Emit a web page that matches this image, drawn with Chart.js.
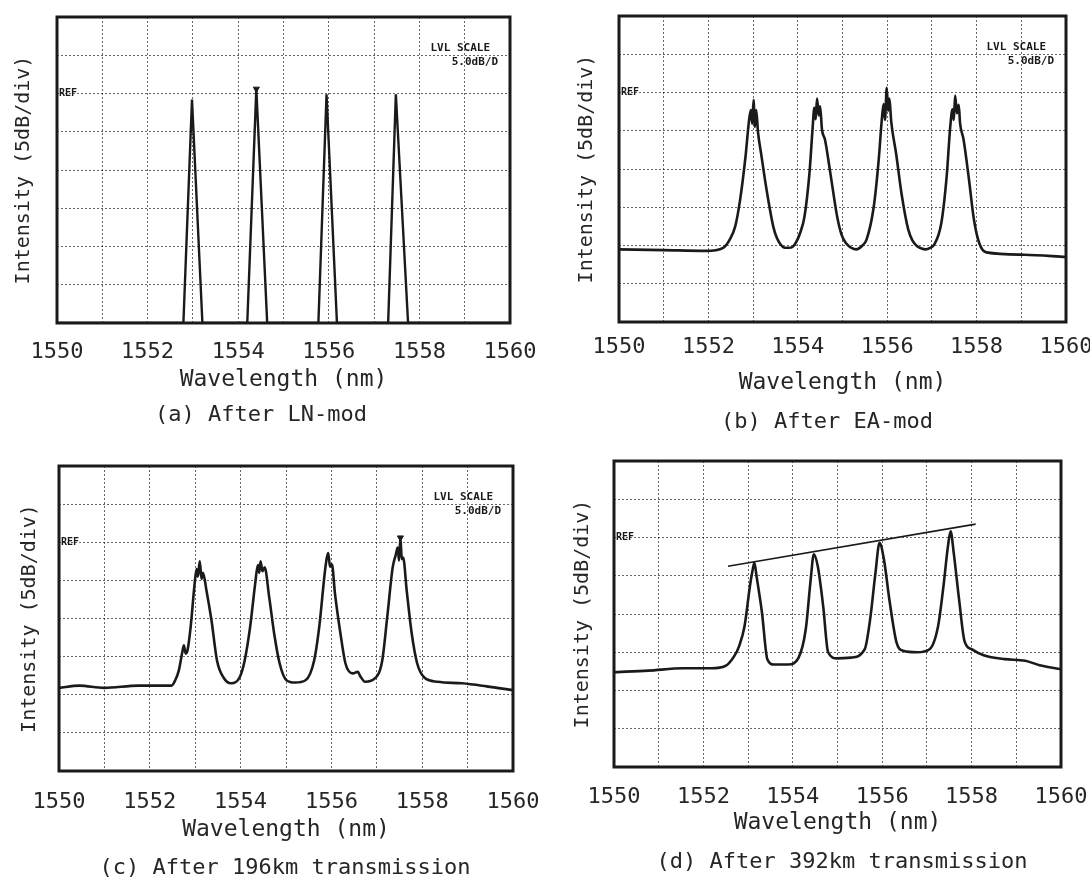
<!DOCTYPE html>
<html>
<head>
<meta charset="utf-8">
<script src="https://cdn.jsdelivr.net/npm/chart.js@4.4.1/dist/chart.umd.min.js"></script>
<style>
  html, body { margin: 0; padding: 0; background: #fff; }
  #wrap { position: relative; width: 1090px; height: 880px; }
  .panel { position: absolute; width: 545px; height: 440px; }
  .panel canvas { display: block; }
</style>
</head>
<body>
<div id="wrap">
  <div class="panel" style="left:0;top:0"><canvas id="chartA" width="545" height="440"></canvas></div>
  <div class="panel" style="left:545px;top:0"><canvas id="chartB" width="545" height="440"></canvas></div>
  <div class="panel" style="left:0;top:440px"><canvas id="chartC" width="545" height="440"></canvas></div>
  <div class="panel" style="left:545px;top:440px"><canvas id="chartD" width="545" height="440"></canvas></div>
</div>
<script>
// axis text
const xTitle = 'Wavelength (nm)';
const yTitle = 'Intensity (5dB/div)';
const xTickLabels = [1550, 1552, 1554, 1556, 1558, 1560];
const captions = ['(a) After LN-mod', '(b) After EA-mod', '(c) After 196km transmission', '(d) After 392km transmission'];

// (a) after LN modulator: wavelength (nm) / level (dB rel. REF)
const wlA = [1550, 1552.79, 1552.98, 1553.21, 1554.20, 1554.40, 1554.64, 1555.77, 1555.95, 1556.18, 1557.31, 1557.48, 1557.75, 1560];
const dbA = [-30, -30, -0.8, -30, -30, 0.6, -30, -30, -0.1, -30, -30, -0.1, -30, -30];

// (b) after EA modulator
const wlB = [1550.00, 1551.00, 1551.94, 1552.33, 1552.48, 1552.60, 1552.71, 1552.83, 1552.91, 1552.95, 1552.98, 1553.01, 1553.04, 1553.07, 1553.11,
  1553.18, 1553.29, 1553.45, 1553.53, 1553.62, 1553.71, 1553.80, 1553.88, 1553.96, 1554.05, 1554.15, 1554.26, 1554.33, 1554.37, 1554.40,
  1554.43, 1554.47, 1554.50, 1554.54, 1554.61, 1554.73, 1554.88, 1554.98, 1555.08, 1555.20, 1555.31, 1555.43, 1555.54, 1555.70, 1555.81,
  1555.88, 1555.92, 1555.95, 1555.99, 1556.02, 1556.05, 1556.09, 1556.20, 1556.32, 1556.47, 1556.57, 1556.67, 1556.77, 1556.86, 1556.96,
  1557.05, 1557.21, 1557.33, 1557.41, 1557.46, 1557.49, 1557.52, 1557.56, 1557.60, 1557.63, 1557.71, 1557.83, 1557.94, 1558.06, 1558.22,
  1559.07, 1560.00];
const dbB = [-20.5, -20.6, -20.7, -20.3, -19.2, -17.5, -14.0, -8.4, -3.6, -2.3, -4.1, -1.0, -4.5, -2.3, -5.2,
  -8.0, -12.3, -17.5, -19.0, -19.9, -20.3, -20.3, -20.2, -19.6, -18.4, -16.2, -10.6, -4.8, -2.0, -3.5,
  -0.8, -3.0, -1.8, -4.8, -6.2, -10.6, -16.2, -18.6, -19.7, -20.3, -20.5, -20.1, -19.2, -14.9, -8.8,
  -3.5, -1.5, -3.6, 0.6, -2.4, -0.8, -3.8, -8.0, -13.2, -17.9, -19.4, -20.1, -20.4, -20.5, -20.3,
  -19.9, -17.1, -11.0, -4.5, -2.2, -3.6, -0.4, -2.7, -1.6, -4.0, -6.2, -11.4, -16.6, -19.7, -20.9,
  -21.2, -21.5];

// (c) after 196 km
const wlC = [1550.00, 1550.45, 1550.99, 1551.75, 1552.48, 1552.56, 1552.64, 1552.71, 1552.75, 1552.79, 1552.83, 1552.90, 1552.98, 1553.03, 1553.06,
  1553.10, 1553.14, 1553.17, 1553.25, 1553.36, 1553.48, 1553.63, 1553.79, 1553.98, 1554.09, 1554.21, 1554.32, 1554.38, 1554.41, 1554.44,
  1554.48, 1554.53, 1554.63, 1554.74, 1554.86, 1555.01, 1555.20, 1555.43, 1555.62, 1555.74, 1555.85, 1555.90, 1555.93, 1555.97, 1556.01,
  1556.08, 1556.20, 1556.31, 1556.47, 1556.58, 1556.64, 1556.74, 1556.97, 1557.12, 1557.23, 1557.35, 1557.42, 1557.46, 1557.49, 1557.52,
  1557.55, 1557.58, 1557.66, 1557.77, 1557.89, 1558.04, 1558.34, 1558.88, 1559.42, 1560.00];
const dbC = [-19.1, -18.8, -19.1, -18.8, -18.8, -18.1, -16.8, -14.6, -13.5, -14.6, -14.2, -11.1, -5.9, -3.5, -4.5,
  -2.5, -4.8, -4.0, -6.4, -10.3, -15.5, -17.8, -18.5, -17.7, -15.5, -11.1, -5.5, -3.0, -4.0, -2.5,
  -3.8, -3.3, -7.2, -12.0, -15.9, -18.1, -18.4, -18.1, -15.5, -10.7, -4.2, -2.0, -1.4, -3.2, -2.9,
  -6.8, -12.0, -15.9, -17.2, -17.0, -17.6, -18.3, -17.8, -15.5, -9.8, -3.3, -1.6, -0.7, -2.4, 0.6,
  -2.2, -2.0, -6.4, -12.0, -15.9, -17.7, -18.3, -18.5, -18.9, -19.4];

// (d) after 392 km
const wlD = [1550.00, 1550.77, 1551.55, 1552.18, 1552.49, 1552.69, 1552.80, 1552.92, 1553.04, 1553.11, 1553.14, 1553.19, 1553.31, 1553.43, 1553.58,
  1553.90, 1554.13, 1554.29, 1554.40, 1554.47, 1554.56, 1554.68, 1554.79, 1554.99, 1555.30, 1555.61, 1555.73, 1555.85, 1555.94, 1556.04,
  1556.16, 1556.32, 1556.47, 1556.78, 1557.06, 1557.25, 1557.37, 1557.47, 1557.53, 1557.60, 1557.72, 1557.84, 1558.00, 1558.27, 1558.74,
  1559.20, 1559.52, 1560.00];
const dbD = [-17.6, -17.4, -17.1, -17.1, -16.8, -15.5, -14.2, -11.6, -6.4, -4.0, -3.3, -5.1, -9.8, -15.9, -16.6,
  -16.6, -15.7, -12.0, -5.5, -2.2, -3.8, -9.0, -15.0, -15.8, -15.7, -14.6, -10.7, -4.6, -0.7, -2.9,
  -8.1, -13.7, -14.8, -15.0, -14.6, -11.6, -6.4, -1.2, 0.8, -2.0, -8.1, -13.5, -14.6, -15.4, -15.9,
  -16.1, -16.7, -17.2];

// tilt line drawn over the peaks in (d)
const tiltWl = [1552.55, 1558.09];
const tiltDb = [-3.76, 1.75];

// OSA peak markers
const markA = { wl: [1554.40], db: [0.6] };
const markC = { wl: [1557.52], db: [0.6] };

const FONT = "'DejaVu Sans Mono', monospace";
const INK = '#1a1a1a';
const TEXT = '#262626';
const GRID = 'rgba(0,0,0,0.6)';

const toXY = (xs, ys) => xs.map((x, i) => ({ x, y: ys[i] }));

// frame, REF / LVL SCALE annotations and the caption under each panel
const panelDecor = {
    id: 'panelDecor',
    afterDatasetsDraw(chart, args, opts) {
        const { ctx, chartArea: a, scales: { y } } = chart;
        ctx.save();
        ctx.strokeStyle = INK;
        ctx.lineWidth = 3;
        ctx.strokeRect(a.left, a.top, a.right - a.left, a.bottom - a.top);

        ctx.fillStyle = INK;
        ctx.textBaseline = 'middle';
        ctx.textAlign = 'left';
        ctx.font = `bold 10px ${FONT}`;
        ctx.fillText('REF', a.left + 2, y.getPixelForValue(0));

        if (opts.lvl) {
            ctx.font = `bold 11px ${FONT}`;
            ctx.textAlign = 'right';
            ctx.fillText('LVL SCALE', a.right - 20, y.getPixelForValue(5) - 7);
            ctx.fillText('5.0dB/D', a.right - 12, y.getPixelForValue(5) + 7);
        }

        ctx.fillStyle = TEXT;
        ctx.font = `22px ${FONT}`;
        ctx.textAlign = 'center';
        ctx.fillText(opts.caption, opts.capX, opts.capY);
        ctx.restore();
    }
};

function buildPanel(p) {
    const datasets = [{
        data: toXY(p.wl, p.db),
        borderColor: INK,
        borderWidth: p.smooth ? 2.6 : 2.4,
        pointRadius: 0,
        cubicInterpolationMode: p.smooth ? 'monotone' : 'default',
        tension: 0,
        fill: false
    }];
    if (p.mark) {
        datasets.push({
            data: toXY(p.mark.wl, p.mark.db),
            showLine: false,
            pointStyle: 'triangle',
            rotation: 180,
            pointRadius: 3.5,
            pointBackgroundColor: INK,
            pointBorderColor: INK
        });
    }
    if (p.tilt) {
        datasets.push({
            data: toXY(tiltWl, tiltDb),
            borderColor: INK,
            borderWidth: 1.6,
            pointRadius: 0,
            fill: false
        });
    }

    return new Chart(document.getElementById(p.id), {
        type: 'line',
        data: { datasets },
        options: {
            responsive: false,
            animation: false,
            devicePixelRatio: 1,
            layout: { padding: { left: 0, top: p.area.t, right: 545 - p.area.r, bottom: 0 } },
            plugins: {
                legend: { display: false },
                tooltip: { enabled: false },
                panelDecor: { caption: p.caption, capX: p.capX, capY: p.capY, lvl: p.lvl }
            },
            scales: {
                x: {
                    type: 'linear',
                    min: 1550,
                    max: 1560,
                    ticks: {
                        stepSize: 1,
                        autoSkip: false,
                        maxRotation: 0,
                        padding: p.tickPad,
                        color: TEXT,
                        font: { family: FONT, size: 22 },
                        callback: v => xTickLabels.includes(v) ? String(v) : ''
                    },
                    grid: { color: GRID, lineWidth: 1, drawTicks: false },
                    border: { display: false, dash: [2, 2] },
                    title: {
                        display: true,
                        text: xTitle,
                        color: TEXT,
                        font: { family: FONT, size: 23 },
                        padding: { top: 0, bottom: p.xTitlePad }
                    },
                    afterFit: s => { s.height = 440 - p.area.b; s.paddingLeft = 0; s.paddingRight = 0; }
                },
                y: {
                    min: -30,
                    max: 10,
                    ticks: { display: false, stepSize: 5 },
                    grid: { color: GRID, lineWidth: 1, drawTicks: false },
                    border: { display: false, dash: [2, 2] },
                    title: {
                        display: true,
                        text: yTitle,
                        color: TEXT,
                        font: { family: FONT, size: 20 },
                        padding: { top: p.yTitlePad, bottom: 0 }
                    },
                    afterFit: s => { s.width = p.area.l; s.paddingTop = 0; s.paddingBottom = 0; }
                }
            }
        },
        plugins: [panelDecor]
    });
}

const panels = [
    { id: 'chartA', wl: wlA, db: dbA, mark: markA, caption: captions[0], lvl: true, smooth: false,
      area: { l: 57, t: 17, r: 510, b: 323 }, tickPad: 16, xTitlePad: 46, yTitlePad: 12, capX: 261, capY: 415 },
    { id: 'chartB', wl: wlB, db: dbB, caption: captions[1], lvl: true, smooth: true,
      area: { l: 74, t: 16, r: 521, b: 322 }, tickPad: 12, xTitlePad: 43, yTitlePad: 30, capX: 282, capY: 422 },
    { id: 'chartC', wl: wlC, db: dbC, mark: markC, caption: captions[2], lvl: true, smooth: true,
      area: { l: 59, t: 26, r: 513, b: 331 }, tickPad: 18, xTitlePad: 36, yTitlePad: 18, capX: 285, capY: 428 },
    { id: 'chartD', wl: wlD, db: dbD, tilt: true, caption: captions[3], lvl: false, smooth: true,
      area: { l: 69, t: 21, r: 516, b: 327 }, tickPad: 17, xTitlePad: 43, yTitlePad: 26, capX: 297, capY: 422 }
];

panels.forEach(buildPanel);
</script>
</body>
</html>
